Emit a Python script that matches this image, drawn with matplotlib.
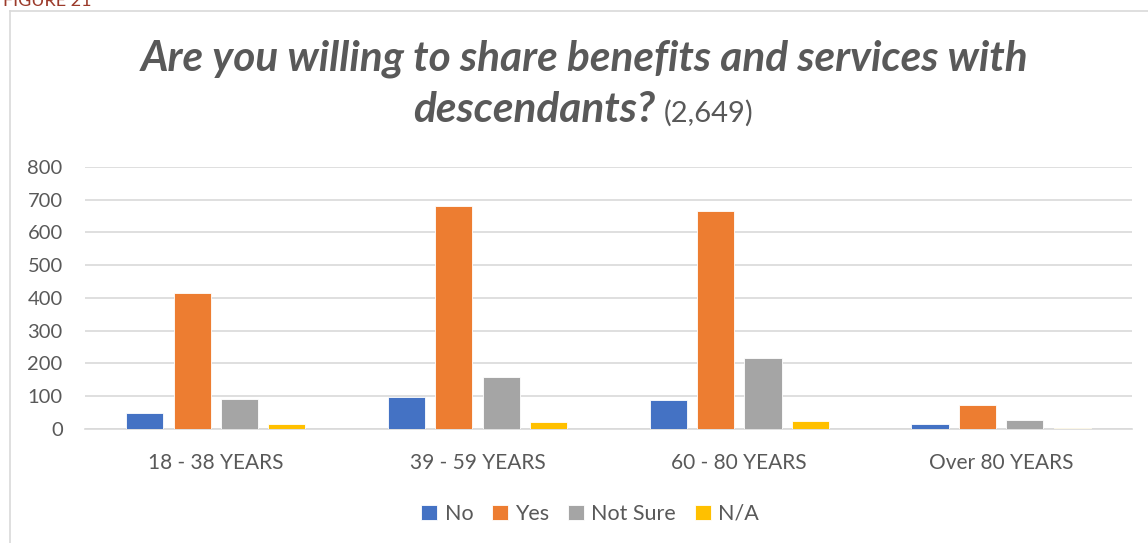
import matplotlib.pyplot as plt
import numpy as np
from matplotlib.lines import Line2D

plt.rcParams['font.family'] = ['Lato', 'DejaVu Sans']

# Responses by age group
age_groups = ['18 - 38 YEARS', '39 - 59 YEARS', '60 - 80 YEARS', 'Over 80 YEARS']
answers = ['No', 'Yes', 'Not Sure', 'N/A']
no_counts = [48, 97, 88, 14]
yes_counts = [416, 681, 664, 73]
not_sure_counts = [91, 158, 216, 27]
na_counts = [15, 21, 25, 2]
colors = ['#4472C4', '#ED7D31', '#A5A5A5', '#FFC000']

grey = '#595959'
grid = '#D9D9D9'

fig = plt.figure(figsize=(11.48, 5.43), dpi=100)
ax = fig.add_axes([0.074, 0.21, 0.912, 0.4826])

x = np.arange(len(age_groups))
width = 0.142
step = 0.181
series = [no_counts, yes_counts, not_sure_counts, na_counts]
for i, (vals, name, c) in enumerate(zip(series, answers, colors)):
    ax.bar(x + (i - 1.5) * step, vals, width, color=c, label=name,
           edgecolor='white', linewidth=0.6, zorder=3)

ax.set_xlim(-0.5, 3.5)
ax.set_ylim(0, 800)
ax.set_yticks(range(0, 801, 100))
ax.set_xticks(x)
ax.set_xticklabels(age_groups)
ax.yaxis.grid(True, color=grid, linewidth=1.2, zorder=0)
ax.set_axisbelow(True)
for s in ['top', 'right', 'left']:
    ax.spines[s].set_visible(False)
ax.spines['bottom'].set_color(grid)
ax.spines['bottom'].set_linewidth(1.2)
ax.tick_params(axis='y', length=0, pad=16, labelsize=14.5, labelcolor=grey)
ax.tick_params(axis='x', length=0, pad=17, labelsize=15, labelcolor=grey)

# Title: bold italic question, plain response count
fig.text(585 / 1148, 1 - 71 / 543, 'Are you willing to share benefits and services with',
         ha='center', va='baseline', fontsize=30.5, fontweight='bold',
         fontstyle='italic', color=grey)
fig.text(655 / 1148, 1 - 122 / 543, 'descendants?', ha='right', va='baseline',
         fontsize=30.5, fontweight='bold', fontstyle='italic', color=grey)
fig.text(664 / 1148, 1 - 122 / 543, '(2,649)', ha='left', va='baseline',
         fontsize=21, color=grey)

# Caption above the chart frame
fig.text(3 / 1148, 1 - 6 / 543, 'FIGURE 21', ha='left', va='baseline',
         fontsize=13, color='#9B3A2A')

# Chart frame
fig.add_artist(Line2D([10 / 1148, 1], [1 - 11 / 543, 1 - 11 / 543],
                      transform=fig.transFigure, color=grid, linewidth=1.2))
fig.add_artist(Line2D([10 / 1148, 10 / 1148], [0, 1 - 11 / 543],
                      transform=fig.transFigure, color=grid, linewidth=1.2))

leg = fig.legend(loc='center', bbox_to_anchor=(590 / 1148, 1 - 514 / 543), ncol=4,
                 frameon=False, fontsize=15.5, handlelength=0.75, handleheight=0.75,
                 handletextpad=0.35, columnspacing=0.85)
for t in leg.get_texts():
    t.set_color(grey)

fig.savefig('out.png', dpi=100)
